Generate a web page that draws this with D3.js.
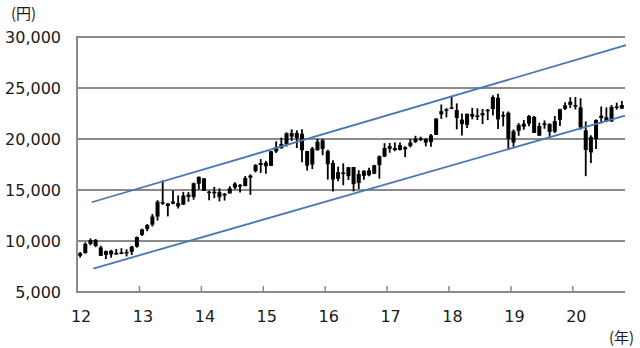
<!DOCTYPE html>
<html>
<head>
<meta charset="utf-8">
<script src="https://cdn.jsdelivr.net/npm/d3@7/dist/d3.min.js"></script>
<style>
  html, body { margin: 0; padding: 0; background: #fff; }
  svg { display: block; }
  text { font-family: "DejaVu Sans", Verdana, sans-serif; fill: #1a1a1a; }
  .cjk { font-family: "Noto Sans CJK JP", "DejaVu Sans", sans-serif; }
</style>
</head>
<body>
<svg id="chart" width="640" height="348"></svg>
<script>
// Monthly candles, Jan 2012 – Oct 2020 (yen)
const startYear = 2012;
const open = [
  8549, 8809, 9708, 10110, 9380, 8632, 9044, 8682, 8809, 8856, 8935, 9447,
  10604, 11180, 11604, 12390, 13799, 13438, 13868, 13713, 13579, 14552, 14305, 15615,
  16147, 14807, 14755, 14791, 14457, 14646, 15239, 15478, 15382, 16207, 16862, 17649,
  17325, 17361, 18779, 19115, 19483, 20570, 20086, 20518, 18813, 17500, 18902, 19866,
  18818, 17651, 16093, 16719, 16357, 17251, 15682, 16391, 16926, 16598, 17442, 18274,
  19298, 18914, 19393, 18983, 19310, 19722, 20055, 19985, 19696, 20400, 22420, 22916,
  23073, 22834, 21901, 21388, 22452, 22171, 22316, 22746, 22938, 24046, 22243, 22574,
  19655, 20797, 21501, 21511, 22169, 20327, 21506, 21478, 20715, 21880, 22962, 23344,
  23320, 23096, 20850, 18686, 19991, 22062, 22124, 21710, 23177, 23332
];
const high = [
  8928, 9866, 10255, 10190, 9534, 9075, 9136, 9222, 9288, 9184, 9525, 10433,
  11191, 11662, 12650, 13997, 15942, 13711, 14953, 14467, 14817, 14799, 15727, 16320,
  16164, 14934, 15312, 15164, 14707, 15376, 15759, 15588, 16374, 16533, 17520, 18030,
  17850, 18826, 19778, 20133, 20655, 20952, 20850, 20946, 18843, 19223, 20012, 20012,
  18951, 17905, 17291, 17613, 17251, 17251, 16938, 16943, 17174, 17473, 18384, 19592,
  19615, 19668, 19656, 19289, 19999, 20318, 20230, 20080, 20481, 22011, 23382, 23018,
  24129, 23486, 22502, 22500, 23050, 23011, 22949, 22949, 24286, 24448, 22698, 22698,
  20941, 21556, 21860, 22362, 22258, 21600, 21823, 21540, 22255, 22974, 23592, 24091,
  24115, 23995, 21719, 20365, 21919, 23185, 23096, 23338, 23564, 23725
];
const low = [
  8378, 8765, 9574, 9388, 8542, 8238, 8365, 8653, 8717, 8489, 8619, 9351,
  10486, 10958, 11423, 12004, 13555, 12415, 13610, 13188, 13525, 13853, 14046, 15047,
  14915, 13995, 14203, 13885, 13964, 14739, 15068, 14753, 15376, 14529, 16720, 16672,
  16592, 17361, 18633, 19034, 19259, 19811, 19115, 17714, 16901, 17055, 18860, 18410,
  16017, 14865, 15857, 15471, 15975, 14864, 15106, 16004, 16343, 16555, 16111, 18226,
  18650, 18805, 18909, 18224, 19175, 19612, 19792, 19280, 19239, 20397, 21972, 22115,
  22956, 20950, 20347, 21068, 21931, 21859, 21462, 21851, 22307, 20971, 21243, 18948,
  19241, 20315, 20911, 21255, 20601, 20289, 21003, 20110, 20588, 21276, 22850, 23044,
  22892, 20916, 16358, 17646, 19017, 21530, 21710, 21710, 22878, 22948
];
const close = [
  8802, 9723, 10083, 9520, 8542, 9006, 8695, 8839, 8870, 8928, 9446, 10395,
  11138, 11559, 12397, 13860, 13774, 13677, 13668, 13388, 14455, 14327, 15661, 16291,
  14914, 14841, 14827, 14304, 14632, 15162, 15620, 15425, 16173, 16413, 17459, 17450,
  17674, 18797, 19206, 19520, 20563, 20235, 20585, 18890, 17388, 19083, 19747, 19033,
  17518, 16026, 16758, 16666, 17234, 15575, 16569, 16887, 16449, 17425, 18308, 19114,
  19041, 19118, 18909, 19196, 19650, 20033, 19925, 19646, 20356, 22011, 22724, 22764,
  23098, 22068, 21454, 22467, 22201, 22304, 22553, 22865, 24120, 21920, 22351, 20014,
  20773, 21385, 21206, 22258, 20601, 21276, 21521, 20704, 21756, 22927, 23294, 23657,
  23205, 21143, 18917, 20194, 21878, 22288, 21710, 23140, 23185, 22977
];

const yTicks = [5000, 10000, 15000, 20000, 25000, 30000];
const yearLabels = ["12", "13", "14", "15", "16", "17", "18", "19", "20"];

// Channel lines: [decimal year, yen]
const upperTrend = [[2012.237, 13800], [2020.85, 29200]];
const lowerTrend = [[2012.263, 7300], [2020.833, 22300]];

const months = open.map((_, i) => {
  const yr = startYear + Math.floor(i / 12);
  const mo = (i % 12) + 1;
  return `${yr}-${String(mo).padStart(2, "0")}`;
});
const candles = months.map((m, i) => ({
  month: m, o: open[i], h: high[i], l: low[i], c: close[i]
}));

const svg = d3.select("#chart");
const plotLeft = 77, plotRight = 625, plotTop = 37, plotBottom = 292;

const x = d3.scaleBand().domain(months).range([plotLeft, plotRight]).padding(0.22);
const step = x.step();
const xYear = d3.scaleLinear()
  .domain([startYear, startYear + months.length / 12])
  .range([plotLeft, plotRight]);
const y = d3.scaleLinear().domain([5000, 30000]).range([plotBottom, plotTop]);

const gridColor = "#8a8a8a";

// horizontal gridlines
svg.append("g").selectAll("line").data(yTicks.slice(1)).join("line")
  .attr("x1", plotLeft).attr("x2", plotRight)
  .attr("y1", d => y(d)).attr("y2", d => y(d))
  .attr("stroke", gridColor).attr("stroke-width", 2);

// y labels
svg.append("g").selectAll("text").data(yTicks).join("text")
  .attr("x", 61).attr("y", d => y(d))
  .attr("dy", "0.36em")
  .attr("text-anchor", "end")
  .attr("font-size", 16)
  .text(d => d3.format(",")(d));

// axis lines
svg.append("line")
  .attr("x1", plotLeft).attr("x2", plotLeft).attr("y1", plotTop - 1).attr("y2", plotBottom + 1)
  .attr("stroke", gridColor).attr("stroke-width", 2);
svg.append("line")
  .attr("x1", plotLeft - 1).attr("x2", plotRight).attr("y1", plotBottom).attr("y2", plotBottom)
  .attr("stroke", gridColor).attr("stroke-width", 2);

// year ticks and labels (January of each year)
const janMonths = yearLabels.map(l => `20${l}-01`);
const tickX = m => x(m) - (step - x.bandwidth()) / 2;
svg.append("g").selectAll("line").data(janMonths.slice(1)).join("line")
  .attr("x1", d => tickX(d)).attr("x2", d => tickX(d))
  .attr("y1", plotBottom).attr("y2", plotBottom - 6)
  .attr("stroke", gridColor).attr("stroke-width", 1.5);
svg.append("g").selectAll("text").data(yearLabels).join("text")
  .attr("x", d => tickX(`20${d}-01`) + 3.5)
  .attr("y", 322)
  .attr("text-anchor", "middle")
  .attr("font-size", 16)
  .text(d => d);

// unit labels
svg.append("text").attr("class", "cjk").attr("x", 11).attr("y", 19)
  .attr("font-size", 15).text("(円)");
svg.append("text").attr("class", "cjk").attr("x", 609).attr("y", 343)
  .attr("font-size", 15).text("(年)");

// candles
const g = svg.append("g");
g.selectAll("line").data(candles).join("line")
  .attr("x1", d => x(d.month) + x.bandwidth() / 2)
  .attr("x2", d => x(d.month) + x.bandwidth() / 2)
  .attr("y1", d => y(d.h)).attr("y2", d => y(d.l))
  .attr("stroke", "#000").attr("stroke-width", 1.8);
g.selectAll("rect").data(candles).join("rect")
  .attr("x", d => x(d.month))
  .attr("width", x.bandwidth())
  .attr("y", d => y(Math.max(d.o, d.c)))
  .attr("height", d => Math.max(1.5, Math.abs(y(d.o) - y(d.c))))
  .attr("fill", "#000");

// channel lines
const line = d3.line().x(d => xYear(d[0])).y(d => y(d[1]));
[upperTrend, lowerTrend].forEach(t => {
  svg.append("path").attr("d", line(t))
    .attr("fill", "none").attr("stroke", "#4a78b3").attr("stroke-width", 1.8);
});
</script>
</body>
</html>
